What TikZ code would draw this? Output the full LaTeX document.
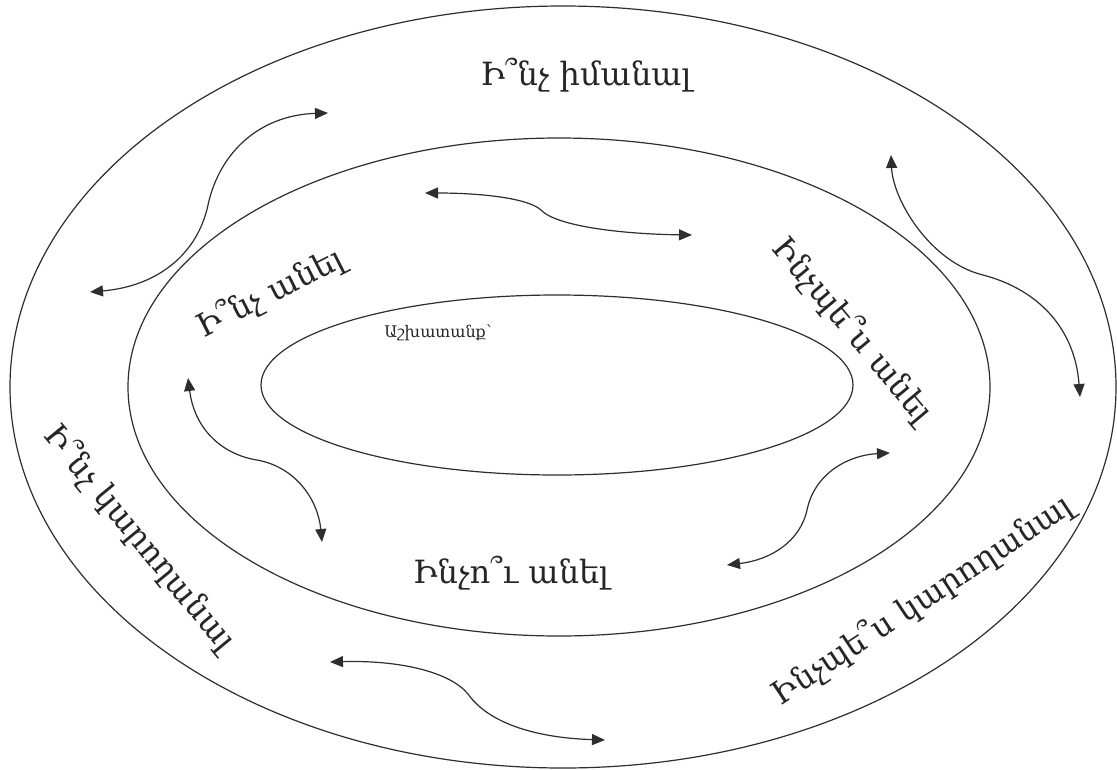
\documentclass[tikz,border=0pt]{standalone}
\usepackage{fontspec}
\setmainfont{DejaVu Serif}
\usetikzlibrary{arrows.meta,shapes.geometric}
\definecolor{linec}{HTML}{2E2E2E}
\definecolor{textc}{HTML}{262626}
\begin{document}
\begin{tikzpicture}[x=1pt,y=-1pt,
  ring/.style={draw=linec, line width=1.2pt, ellipse, inner sep=0pt, outer sep=0pt},
  link/.style={draw=linec, line width=1.2pt, {Triangle[length=13pt,width=11pt]}-{Triangle[length=13pt,width=11pt]}},
  lbl/.style={text=textc, font=\fontsize{32}{38}\selectfont, inner sep=0pt},
  small/.style={text=textc, font=\fontsize{16}{20}\selectfont, inner sep=0pt}]
\useasboundingbox (0,0) rectangle (1117,769);
\fill[white] (0,0) rectangle (1117,769);
% rings
\node[ring, minimum width=1106pt, minimum height=762pt] (outer) at (563,387) {};
\node[ring, minimum width=862pt, minimum height=498pt] (middle) at (559,387) {};
\node[ring, minimum width=592pt, minimum height=180pt] (inner) at (557,385) {};
% labels
\node[lbl] (know) at (586,75) {Ի՞նչ իմանալ};
\node[lbl, rotate=27] (what) at (270,293) {Ի՞նչ անել};
\node[lbl, rotate=-50] (how) at (853,330) {Ինչպե՞ս անել};
\node[small] (work) at (438,333) {Աշխատանք՝};
\node[lbl, rotate=-50.5] (can) at (140,538) {Ի՞նչ կարողանալ};
\node[lbl] (why) at (511,573) {Ինչո՞ւ անել};
\node[lbl, rotate=33.5] (howcan) at (922,600) {Ինչպե՞ս կարողանալ};
% arrow end points
\coordinate (a1) at (90,292);   \coordinate (b1) at (328,113);
\coordinate (a2) at (425,193);  \coordinate (b2) at (692,235);
\coordinate (a3) at (891,155);  \coordinate (b3) at (1080,397);
\coordinate (a4) at (188,378);  \coordinate (b4) at (322,542);
\coordinate (a5) at (727,565);  \coordinate (b5) at (890,453);
\coordinate (a6) at (330,662);  \coordinate (b6) at (605,740);
% arrows
\draw[link] (a1) .. controls (160,286) and (198,252) .. (208,205) .. controls (220,150) and (262,115) .. (b1);
\draw[link] (a2) .. controls (480,193) and (528,198) .. (541,210) .. controls (556,226) and (620,234) .. (b2);
\draw[link] (a3) .. controls (893,200) and (930,262) .. (983,275) .. controls (1040,290) and (1075,330) .. (b3);
\draw[link] (a4) .. controls (195,432) and (225,455) .. (257,460) .. controls (296,467) and (318,500) .. (b4);
\draw[link] (a5) .. controls (770,560) and (800,542) .. (807,510) .. controls (815,472) and (850,455) .. (b5);
\draw[link] (a6) .. controls (400,660) and (450,672) .. (468,694) .. controls (490,725) and (540,738) .. (b6);
\end{tikzpicture}
\end{document}
